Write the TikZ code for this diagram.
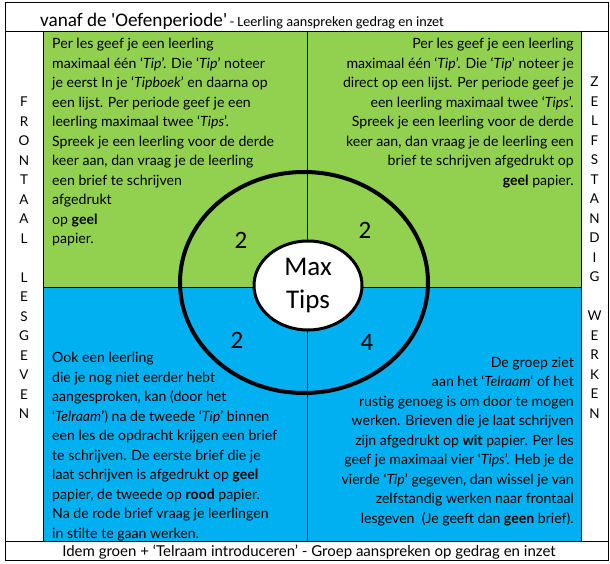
\documentclass[tikz,border=0pt]{standalone}
\usepackage{fontspec}
\setmainfont{Lato}
\newfontfamily\calibri{Carlito}
\usetikzlibrary{shapes.geometric}
\definecolor{groen}{RGB}{146,208,80}
\definecolor{blauw}{RGB}{0,176,240}
\tikzset{
  txt/.style = {inner sep=0pt, font=\fontsize{14.1}{19.5}\selectfont},
  side/.style = {inner sep=0pt, font=\fontsize{13.5}{19.5}\selectfont, align=center, anchor=north},
  num/.style = {inner sep=0pt, font=\calibri\fontsize{25}{30}\selectfont},
  ring/.style = {ellipse, draw=black, inner sep=0pt}
}

\begin{document}
\begin{tikzpicture}[x=1pt, y=-1pt]
\useasboundingbox (0,0) rectangle (610,564);
\fill[white] (0,0) rectangle (610,564);
% vlakken
\fill[groen] (43,32) rectangle (581,287);
\fill[blauw] (43,287) rectangle (581,541);
\draw[line width=1pt] (5,3) rectangle (608,560);
\draw[line width=1pt] (5,32) -- (608,32) (5,541) -- (608,541);
\draw[line width=1pt] (43,32) -- (43,541) (581,32) -- (581,541) (307,32) -- (307,541);
\draw[line width=1pt] (43,287) -- (581,287);

\node[anchor=base west, inner sep=0pt] (kop) at (40,27)
  {{\calibri\fontsize{19.2}{24}\selectfont vanaf de \textquotesingle Oefenperiode\textquotesingle}
   {\calibri\fontsize{14.2}{17}\selectfont - Leerling aanspreken gedrag en inzet}};
\node[inner sep=0pt, font=\fontsize{15}{18}\selectfont, anchor=base] (voet) at (309,556)
  {Idem groen + ‘Telraam introduceren’ - Groep aanspreken op gedrag en inzet};

\node[side] (frontaal) at (24,97)
  {F\\R\\O\\N\\T\\A\\A\\L\\[19.5pt]L\\E\\S\\G\\E\\V\\E\\N};
\node[side] (zelfstandig) at (594.5,77)
  {Z\\E\\L\\F\\S\\T\\A\\N\\D\\I\\G\\[19.5pt]W\\E\\R\\K\\E\\N};

\node[txt, align=left, anchor=north west] (linksboven) at (52,38)
  {Per les geef je een leerling\\
   maximaal één ‘\textit{Tip}’. Die ‘\textit{Tip}’ noteer\\
   je eerst In je ‘\textit{Tipboek}’ en daarna op\\
   een lijst. Per periode geef je een\\
   leerling maximaal twee ‘\textit{Tips}’.\\
   Spreek je een leerling voor de derde\\
   keer aan, dan vraag je de leerling\\
   een brief te schrijven\\
   afgedrukt\\
   op \textbf{geel}\\
   papier.};
\node[txt, align=right, anchor=north east] (rechtsboven) at (574,38)
  {Per les geef je een leerling\\
   maximaal één ‘\textit{Tip}’. Die ‘\textit{Tip}’ noteer je\\
   direct op een lijst. Per periode geef je\\
   een leerling maximaal twee ‘\textit{Tips}’.\\
   Spreek je een leerling voor de derde\\
   keer aan, dan vraag je de leerling een\\
   brief te schrijven afgedrukt op\\
   \textbf{geel} papier.};
\node[txt, align=left, anchor=north west] (linksonder) at (52,352)
  {Ook een leerling\\
   die je nog niet eerder hebt\\
   aangesproken, kan (door het\\
   ‘\textit{Telraam}’) na de tweede ‘\textit{Tip}’ binnen\\
   een les de opdracht krijgen een brief\\
   te schrijven. De eerste brief die je\\
   laat schrijven is afgedrukt op \textbf{geel}\\
   papier, de tweede op \textbf{rood} papier.\\
   Na de rode brief vraag je leerlingen\\
   in stilte te gaan werken.};
\node[txt, align=right, anchor=north east] (rechtsonder) at (574,357)
  {De groep ziet\\
   aan het ‘\textit{Telraam}‘ of het\\
   rustig genoeg is om door te mogen\\
   werken. Brieven die je laat schrijven\\
   zijn afgedrukt op \textbf{wit} papier. Per les\\
   geef je maximaal vier ‘\textit{Tips}’. Heb je de\\
   vierde ‘\textit{Tip}’ gegeven, dan wissel je van\\
   zelfstandig werken naar frontaal\\
   lesgeven\ \ (Je geeft dan \textbf{geen} brief).};

% cirkels
\node[ring, line width=4pt, minimum width=248pt, minimum height=221pt] (rand) at (304,282.5) {};
\node[ring, line width=3pt, fill=white, minimum width=108pt, minimum height=89pt,
  align=center, font=\calibri\fontsize{27}{33}\selectfont] (maxtips) at (308,285.5) {Max\\Tips};
\node[num] (n1) at (241,240) {2};
\node[num] (n2) at (365,230) {2};
\node[num] (n3) at (237,340) {2};
\node[num] (n4) at (367,342) {4};
\end{tikzpicture}
\end{document}
